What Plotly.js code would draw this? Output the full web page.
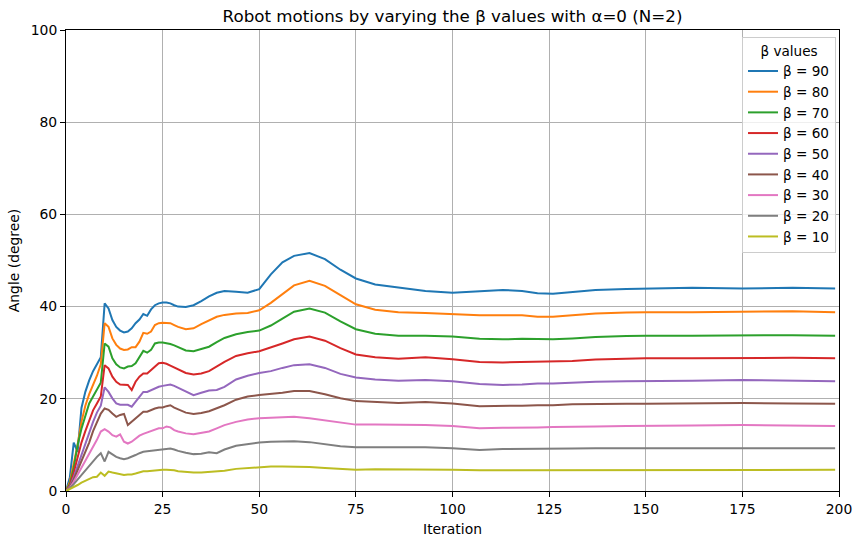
<!DOCTYPE html>
<html>
<head>
<meta charset="utf-8">
<script src="https://cdn.plot.ly/plotly-3.0.1.min.js"></script>
<style>html,body{margin:0;padding:0;background:#fff;}#chart{width:864px;height:545px;}</style>
</head>
<body>
<div id="chart"></div>
<script>
const iterations = [0,1,2,3,4,5,6,7,8,9,10,11,12,13,14,15,16,17,18,19,20,21,22,23,24,25,26,27,28,29,
  31,33,35,37,39,41,44,47,50,53,56,59,63,67,71,75,80,86,93,100,107,113,118,122,126,131,137,145,150,162,175,188,199];

const beta90 = [0,3,10.5,8.5,18,21.5,24,26,27.5,29,40.7,39.6,37.1,35.6,34.8,34.4,34.6,35.3,36.4,37.2,38.4,38.0,39.4,40.3,40.7,40.9,40.9,40.7,40.3,40.0,
  39.9,40.3,41.2,42.2,43.0,43.4,43.2,43.0,43.8,47.0,49.6,51.0,51.6,50.3,48.0,46.1,44.8,44.2,43.4,43.0,43.3,43.6,43.4,42.9,42.8,43.2,43.6,43.8,43.9,44.1,43.9,44.1,43.9];
const beta80 = [0,2,6,10,15,18.5,21,23,25,27.5,36.4,35.6,33.1,31.7,30.9,30.6,30.7,31.2,31.2,32.4,34.3,34.1,34.6,36.0,36.4,36.5,36.5,36.4,36.0,35.6,
  35.1,35.3,36.2,37.0,37.8,38.2,38.5,38.6,39.2,40.8,42.8,44.6,45.6,44.5,42.5,40.5,39.3,38.8,38.6,38.3,38.1,38.1,38.1,37.8,37.8,38.1,38.5,38.7,38.8,38.8,38.9,39.0,38.8];
const beta70 = [0,1.5,5,10,13.5,16.5,19,20.5,22,23.5,32,31.3,28.8,27.5,26.8,26.6,27.0,27.1,27.7,29.1,30.4,30.0,30.6,32.0,32.2,32.2,32.1,31.9,31.6,31.2,
  30.5,30.3,30.8,31.3,32.3,33.2,34.0,34.5,34.8,35.9,37.4,38.9,39.6,38.7,36.8,35.1,34.1,33.7,33.7,33.5,33.0,32.9,33.0,32.9,32.9,33.1,33.4,33.6,33.7,33.7,33.8,33.8,33.7];
const beta60 = [0,1.2,4,7.5,10.5,13,15.5,17.5,19,20.5,27.3,26.6,24.8,23.7,23.1,23.0,23.0,21.9,23.7,24.8,25.5,25.5,26.2,26.8,27.7,27.8,27.6,27.2,26.8,26.4,
  25.6,25.3,25.5,26.0,27.0,28.0,29.3,29.9,30.3,31.1,32.0,32.9,33.5,32.6,31.0,29.6,29.0,28.7,29.0,28.6,28.0,27.9,28.0,28.0,28.0,28.2,28.5,28.7,28.8,28.8,28.9,28.9,28.8];
const beta50 = [0,1,3,5.5,8,10.5,13,15,17,18.5,22.5,21.5,20.1,19.0,18.7,18.7,18.7,18.3,19.4,20.5,21.5,21.5,21.9,22.3,22.6,22.8,23.0,23.1,22.8,22.4,
  21.5,20.8,21.3,21.8,21.9,22.6,24.2,25.0,25.6,26.0,26.7,27.3,27.5,26.7,25.4,24.6,24.2,23.9,24.1,23.8,23.2,23.0,23.1,23.3,23.3,23.5,23.7,23.8,23.8,23.9,24.1,24.0,23.8];
const beta40 = [0,0.8,2.5,4.5,6.5,8.5,10.5,13,15,16.8,17.9,17.6,16.8,16.1,16.5,16.7,14.3,15.0,15.8,16.5,17.2,17.2,17.6,17.9,18.1,18.1,18.4,18.6,18.1,17.7,
  17.0,16.7,16.9,17.3,17.9,18.6,19.8,20.5,20.8,21.0,21.3,21.7,21.7,21.0,20.1,19.5,19.3,19.1,19.3,19.0,18.4,18.4,18.5,18.6,18.6,18.8,18.9,18.9,18.9,19.0,19.1,19.0,18.9];
const beta30 = [0,0.7,2,3.5,5,6.5,8,9.5,11.1,12.9,13.4,12.9,12.1,11.8,12.3,10.7,10.3,10.7,11.4,12.0,12.4,12.7,13.1,13.4,13.6,13.6,14.0,13.8,13.2,12.9,
  12.5,12.3,12.6,12.9,13.6,14.3,15.0,15.5,15.8,15.9,16.0,16.1,15.8,15.3,14.8,14.4,14.4,14.4,14.3,14.1,13.6,13.7,13.7,13.8,13.9,14.0,14.0,14.1,14.1,14.2,14.3,14.2,14.1];
const beta20 = [0,0.6,1.5,2.5,3.5,4.5,5.5,6.4,7.4,8.2,6.4,8.5,8.0,7.4,7.1,6.9,7.1,7.4,7.8,8.2,8.5,8.6,8.7,8.9,9.0,9.0,9.1,9.2,9.0,8.7,
  8.3,8.0,8.1,8.4,8.2,9.0,9.8,10.2,10.5,10.7,10.8,10.8,10.6,10.2,9.7,9.5,9.5,9.6,9.5,9.3,8.9,9.1,9.1,9.2,9.2,9.2,9.3,9.3,9.3,9.3,9.3,9.3,9.3];
const beta10 = [0,0.4,0.8,1.3,1.8,2.2,2.6,3.0,3.1,4.0,3.3,4.2,4.0,3.8,3.6,3.5,3.6,3.6,3.8,4.0,4.3,4.3,4.4,4.5,4.6,4.6,4.6,4.6,4.5,4.3,
  4.1,4.0,4.0,4.1,4.2,4.4,4.8,5.0,5.2,5.3,5.3,5.3,5.2,5.0,4.8,4.6,4.7,4.7,4.7,4.6,4.5,4.5,4.6,4.6,4.6,4.6,4.6,4.6,4.6,4.6,4.6,4.6,4.6];

const seriesNames = ['β = 90','β = 80','β = 70','β = 60','β = 50','β = 40','β = 30','β = 20','β = 10'];
const seriesValues = [beta90,beta80,beta70,beta60,beta50,beta40,beta30,beta20,beta10];
const colors = ['#1f77b4','#ff7f0e','#2ca02c','#d62728','#9467bd','#8c564b','#e377c2','#7f7f7f','#bcbd22'];
const xTicks = [0,25,50,75,100,125,150,175,200];
const yTicks = [0,20,40,60,80,100];

const traces = seriesNames.map((name, k) => ({
  x: iterations,
  y: seriesValues[k],
  name: name,
  type: 'scatter',
  mode: 'lines',
  line: {color: colors[k], width: 2}
}));

const font = "'DejaVu Sans'";
const fs = 13.9;
const layout = {
  width: 864, height: 545,
  margin: {l: 66, r: 25, t: 30, b: 54},
  paper_bgcolor: '#fff', plot_bgcolor: '#fff',
  font: {family: font, size: fs, color: '#000'},
  title: {text: 'Robot motions by varying the β values with α=0 (N=2)', font: {family: font, size: 16.7, color: '#000'},
    x: 0.5, xref: 'paper', xanchor: 'center', y: 1 - 16/545, yanchor: 'middle', yref: 'container'},
  xaxis: {
    range: [0, 200], tickvals: xTicks, ticktext: xTicks.map(String),
    showgrid: true, gridcolor: '#b0b0b0', gridwidth: 1,
    showline: true, linecolor: '#000', linewidth: 1, mirror: true,
    ticks: 'outside', ticklen: 5, tickcolor: '#000', tickwidth: 1,
    zeroline: false, tickfont: {family: font, size: fs, color: '#000'},
    title: {text: 'Iteration', font: {family: font, size: fs, color: '#000'}, standoff: 8}
  },
  yaxis: {
    range: [0, 100], tickvals: yTicks, ticktext: yTicks.map(String),
    showgrid: true, gridcolor: '#b0b0b0', gridwidth: 1,
    showline: true, linecolor: '#000', linewidth: 1, mirror: true,
    ticks: 'outside', ticklen: 5, tickcolor: '#000', tickwidth: 1,
    zeroline: false, tickfont: {family: font, size: fs, color: '#000'},
    title: {text: 'Angle (degree)', font: {family: font, size: fs, color: '#000'}, standoff: 7}
  },
  showlegend: true,
  legend: {
    x: 1 - 3/773, xanchor: 'right', y: 1 - 7/461, yanchor: 'top',
    bgcolor: 'rgba(255,255,255,0.8)', bordercolor: '#cccccc', borderwidth: 1,
    font: {family: font, size: 13.6, color: '#000'},
    title: {text: 'β values', side: 'top center', font: {family: font, size: 13.6, color: '#000'}}
  }
};

Plotly.newPlot('chart', traces, layout, {displayModeBar: false, responsive: false});
</script>
</body>
</html>
